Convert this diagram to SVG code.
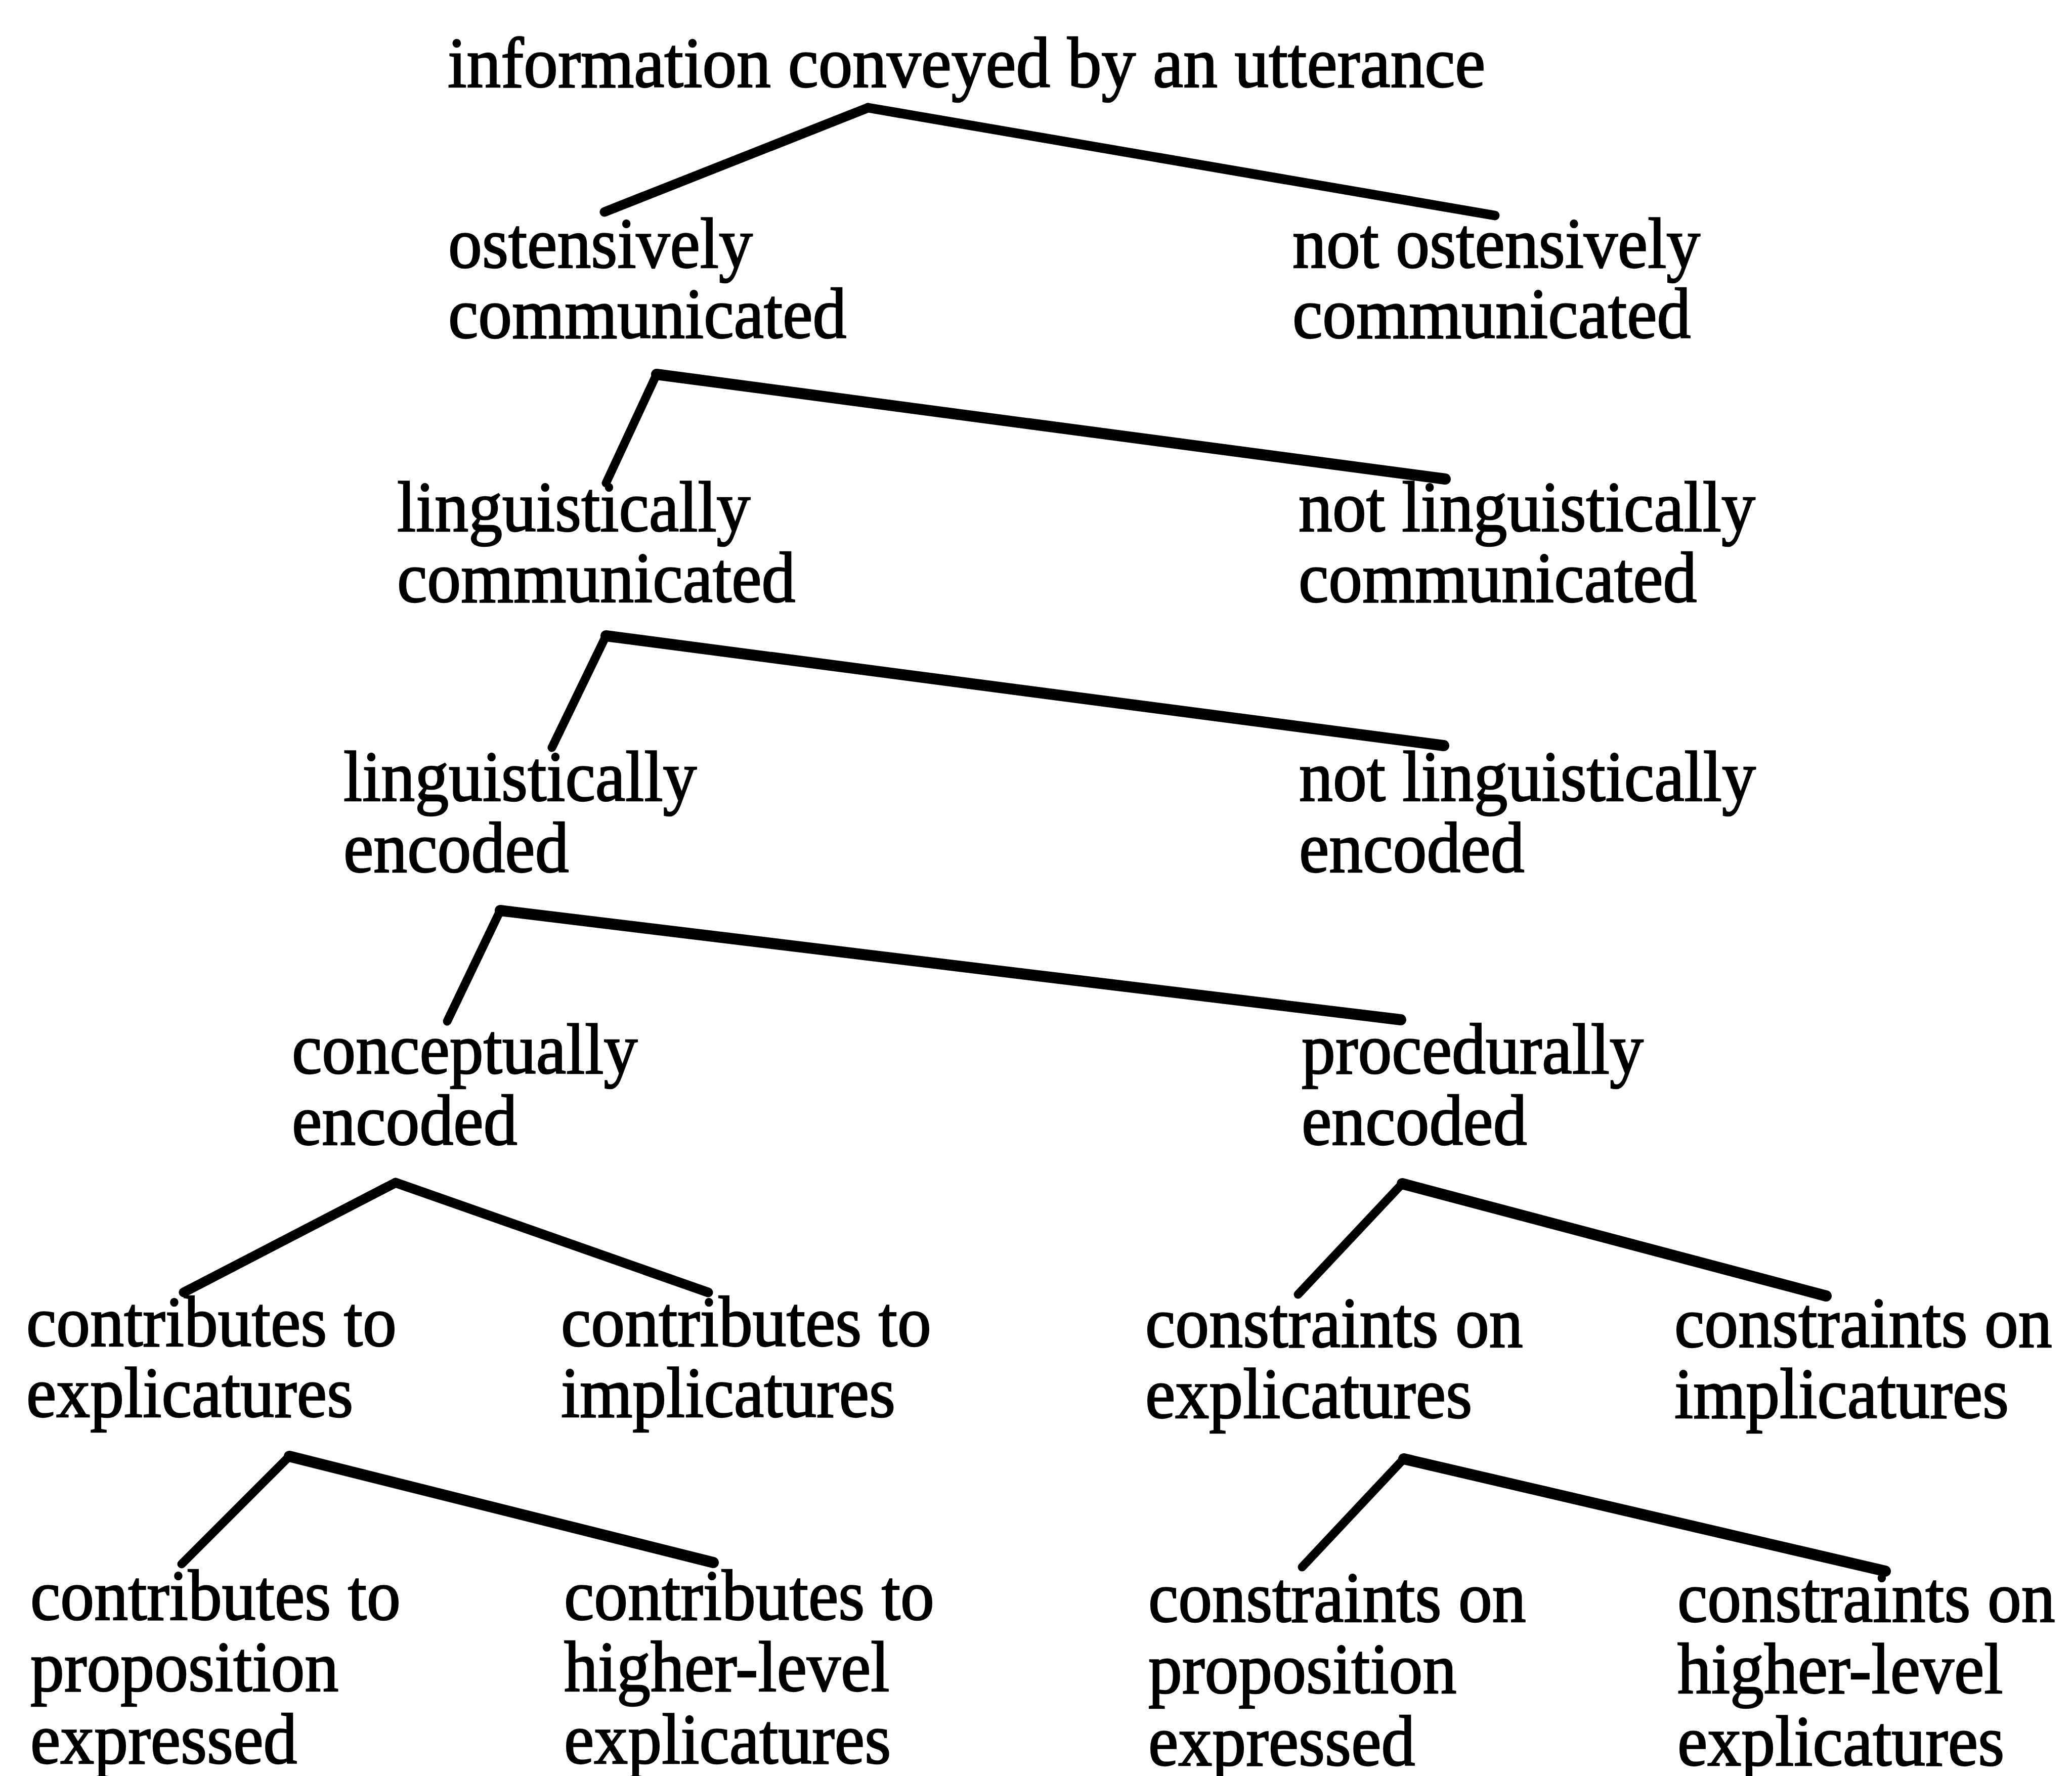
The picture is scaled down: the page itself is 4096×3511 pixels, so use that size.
<svg xmlns="http://www.w3.org/2000/svg" width="4096" height="3511" viewBox="0 0 4096 3511">
<style>
.t{font-family:"Liberation Serif","Times New Roman",serif;font-size:142px;fill:#000;stroke:#000;stroke-width:2.5}
.e{stroke:#000;fill:none;stroke-linecap:round;stroke-linejoin:round}
.thin{stroke-width:17}
.mid{stroke-width:19}
.thick{stroke-width:22}
</style>
<rect width="4096" height="3511" fill="#fff"/>
<g id="connectors">
<line class="e mid" x1="1195" y1="419" x2="1716" y2="213"/>
<line class="e mid" x1="1716" y1="213" x2="2955" y2="426"/>
<line class="e thin" x1="1198" y1="955" x2="1298" y2="740"/>
<line class="e thick" x1="1298" y1="740" x2="2857" y2="947"/>
<line class="e thin" x1="1091" y1="1478" x2="1198" y2="1257"/>
<line class="e thick" x1="1198" y1="1257" x2="2854" y2="1474"/>
<line class="e thin" x1="884" y1="2019" x2="989" y2="1800"/>
<line class="e thick" x1="989" y1="1800" x2="2769" y2="2016"/>
<line class="e mid" x1="363" y1="2555" x2="782" y2="2338"/>
<line class="e mid" x1="782" y1="2338" x2="1400" y2="2555"/>
<line class="e thin" x1="2566" y1="2559" x2="2772" y2="2340"/>
<line class="e thick" x1="2772" y1="2340" x2="3610" y2="2562"/>
<line class="e thin" x1="359" y1="3092" x2="572" y2="2879"/>
<line class="e thick" x1="572" y1="2879" x2="1410" y2="3089"/>
<line class="e thin" x1="2574" y1="3098" x2="2775" y2="2884"/>
<line class="e thick" x1="2775" y1="2884" x2="3727" y2="3106"/>
</g>
<g id="n-root"><text class="t" transform="translate(885 172) scale(0.953 1)">information conveyed by an utterance</text></g>
<g id="n-ost"><text class="t" transform="translate(886 529) scale(0.942 1)"><tspan x="0" y="0">ostensively</tspan><tspan x="0" y="139">communicated</tspan></text></g>
<g id="n-notost"><text class="t" transform="translate(2555 529) scale(0.942 1)"><tspan x="0" y="0">not ostensively</tspan><tspan x="0" y="139">communicated</tspan></text></g>
<g id="n-lingcomm"><text class="t" transform="translate(785 1050) scale(0.942 1)"><tspan x="0" y="0">linguistically</tspan><tspan x="0" y="140">communicated</tspan></text></g>
<g id="n-notlingcomm"><text class="t" transform="translate(2567 1050) scale(0.942 1)"><tspan x="0" y="0">not linguistically</tspan><tspan x="0" y="140">communicated</tspan></text></g>
<g id="n-lingenc"><text class="t" transform="translate(679 1583) scale(0.942 1)"><tspan x="0" y="0">linguistically</tspan><tspan x="0" y="141">encoded</tspan></text></g>
<g id="n-notlingenc"><text class="t" transform="translate(2568 1583) scale(0.942 1)"><tspan x="0" y="0">not linguistically</tspan><tspan x="0" y="141">encoded</tspan></text></g>
<g id="n-concept"><text class="t" transform="translate(577 2122) scale(0.942 1)"><tspan x="0" y="0">conceptually</tspan><tspan x="0" y="141">encoded</tspan></text></g>
<g id="n-proc"><text class="t" transform="translate(2573 2122) scale(0.942 1)"><tspan x="0" y="0">procedurally</tspan><tspan x="0" y="141">encoded</tspan></text></g>
<g id="n-cexpl"><text class="t" transform="translate(52 2661) scale(0.942 1)"><tspan x="0" y="0">contributes to</tspan><tspan x="0" y="140">explicatures</tspan></text></g>
<g id="n-cimpl"><text class="t" transform="translate(1109 2661) scale(0.942 1)"><tspan x="0" y="0">contributes to</tspan><tspan x="0" y="140">implicatures</tspan></text></g>
<g id="n-kexpl"><text class="t" transform="translate(2264 2663) scale(0.942 1)"><tspan x="0" y="0">constraints on</tspan><tspan x="0" y="140">explicatures</tspan></text></g>
<g id="n-kimpl"><text class="t" transform="translate(3310 2663) scale(0.942 1)"><tspan x="0" y="0">constraints on</tspan><tspan x="0" y="140">implicatures</tspan></text></g>
<g id="n-cprop"><text class="t" transform="translate(60 3202) scale(0.942 1)"><tspan x="0" y="0">contributes to</tspan><tspan x="0" y="141">proposition</tspan><tspan x="0" y="284">expressed</tspan></text></g>
<g id="n-chigh"><text class="t" transform="translate(1115 3202) scale(0.942 1)"><tspan x="0" y="0">contributes to</tspan><tspan x="0" y="141">higher-level</tspan><tspan x="0" y="284">explicatures</tspan></text></g>
<g id="n-kprop"><text class="t" transform="translate(2270 3206) scale(0.942 1)"><tspan x="0" y="0">constraints on</tspan><tspan x="0" y="141">proposition</tspan><tspan x="0" y="284">expressed</tspan></text></g>
<g id="n-khigh"><text class="t" transform="translate(3316 3206) scale(0.942 1)"><tspan x="0" y="0">constraints on</tspan><tspan x="0" y="141">higher-level</tspan><tspan x="0" y="284">explicatures</tspan></text></g>
</svg>
